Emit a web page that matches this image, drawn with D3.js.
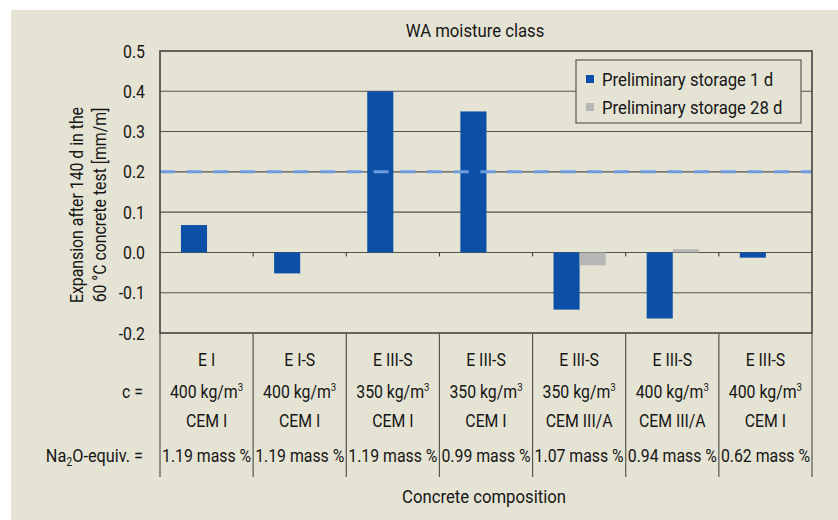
<!DOCTYPE html>
<meta charset="utf-8">
<script src="https://d3js.org/d3.v7.min.js"></script>
<style>
  body { margin: 0; background: #fff; }
  text { font-family: Roboto, "Liberation Sans", sans-serif; fill: #161616; }
</style>
<div id="chart"></div>
<script>
  // data
  var mixes = ["E I", "E I-S", "E III-S", "E III-S", "E III-S", "E III-S", "E III-S"];
  var cementContent = [400, 400, 350, 350, 350, 400, 400]; // kg/m3
  var cementType = ["CEM I", "CEM I", "CEM I", "CEM I", "CEM III/A", "CEM III/A", "CEM I"];
  var na2o = ["1.19 mass %", "1.19 mass %", "1.19 mass %", "0.99 mass %", "1.07 mass %", "0.94 mass %", "0.62 mass %"];
  var storage1d = [0.068, -0.052, 0.40, 0.35, -0.142, -0.164, -0.013];
  var storage28d = [null, null, null, null, -0.032, 0.008, null];
  var seriesNames = ["Preliminary storage 1 d", "Preliminary storage 28 d"];
  var yTicks = [0.5, 0.4, 0.3, 0.2, 0.1, 0.0, -0.1, -0.2];
  var limit = 0.2;

  var width = 838, height = 520;
  var plotL = 160, plotR = 812, plotT = 51, plotB = 333;
  var colors = ["#0b4fa6", "#b6b7b6"];
  var squeeze = 0.88; // the original uses a condensed face

  var svg = d3.select("#chart").append("svg")
    .attr("width", width)
    .attr("height", height);

  // condensed text: position group, then squeeze along the text direction
  function label(parent, x, y, str, size, anchor, rot) {
    var g = parent.append("g")
      .attr("transform", "translate(" + x + "," + y + ")" + (rot ? " rotate(" + rot + ")" : "") + " scale(" + squeeze + ",1)");
    return g.append("text")
      .attr("font-size", size)
      .attr("text-anchor", anchor || "middle")
      .text(str);
  }

  // beige page with the white scan border on top/left
  svg.append("rect").attr("width", width).attr("height", height).attr("fill", "#fff");
  svg.append("rect").attr("x", 11).attr("y", 10).attr("width", width - 11).attr("height", height - 10)
    .attr("fill", "#e5e3d4");

  var idx = d3.range(mixes.length);
  var x = d3.scaleBand().domain(idx).range([plotL, plotR]);
  var bw = x.bandwidth();
  var xs = d3.scaleBand().domain([0, 1]).range([bw * 0.225, bw * 0.785]);
  var y = d3.scaleLinear().domain([-0.2, 0.5]).range([plotB, plotT]);

  // grid lines
  svg.append("g").selectAll("line")
    .data(yTicks.slice(1, -1))
    .enter().append("line")
    .attr("x1", plotL).attr("x2", plotR)
    .attr("y1", d => y(d)).attr("y2", d => y(d))
    .attr("stroke", "#55554f").attr("stroke-width", 1.1);

  // y tick labels
  var fmt = d => d3.format(".1f")(d).replace("−", "-");
  var yLab = svg.append("g");
  yTicks.forEach(function(t) {
    label(yLab, 145, y(t) + 6.5, fmt(t), 18, "end");
  });

  // bars
  var bars = [];
  idx.forEach(function(i) {
    [storage1d[i], storage28d[i]].forEach(function(v, s) {
      if (v !== null) bars.push({ i: i, s: s, v: v });
    });
  });
  svg.append("g").selectAll("rect")
    .data(bars)
    .enter().append("rect")
    .attr("x", d => x(d.i) + xs(d.s))
    .attr("width", xs.bandwidth())
    .attr("y", d => y(Math.max(0, d.v)))
    .attr("height", d => Math.abs(y(d.v) - y(0)))
    .attr("fill", d => colors[d.s]);

  // small ticks on the zero line
  svg.append("g").selectAll("line")
    .data(idx.slice(1))
    .enter().append("line")
    .attr("x1", d => x(d)).attr("x2", d => x(d))
    .attr("y1", y(0)).attr("y2", y(0) + 4)
    .attr("stroke", "#333").attr("stroke-width", 1);

  // limit line
  svg.append("line")
    .attr("x1", plotL).attr("x2", plotR)
    .attr("y1", y(limit)).attr("y2", y(limit))
    .attr("stroke", "#6d9de0").attr("stroke-width", 3)
    .attr("stroke-dasharray", "15,11.7");

  // frame
  svg.append("rect")
    .attr("x", plotL).attr("y", plotT)
    .attr("width", plotR - plotL).attr("height", plotB - plotT)
    .attr("fill", "none").attr("stroke", "#3a3a38").attr("stroke-width", 1.5);

  // table below the plot
  var tableBottom = 477;
  svg.append("g").selectAll("line")
    .data(d3.range(mixes.length + 1))
    .enter().append("line")
    .attr("x1", d => plotL + d * bw).attr("x2", d => plotL + d * bw)
    .attr("y1", plotB).attr("y2", tableBottom)
    .attr("stroke", "#55554f").attr("stroke-width", 1.2);

  var rowY = [366, 398, 427, 462];
  var table = svg.append("g");
  idx.forEach(function(i) {
    var cx = x(i) + bw / 2;
    label(table, cx, rowY[0], mixes[i], 18, "middle");
    var c = label(table, cx, rowY[1], "", 18, "middle");
    c.append("tspan").text(cementContent[i] + " kg/m");
    c.append("tspan").attr("font-size", 11).attr("dy", -7).text("3");
    label(table, cx, rowY[2], cementType[i], 18, "middle");
    label(table, cx, rowY[3], na2o[i], 18, "middle");
  });

  label(svg, 143, rowY[1], "c =", 18, "end");
  var na = label(svg, 143, rowY[3], "", 18.5, "end");
  na.append("tspan").text("Na");
  na.append("tspan").attr("font-size", 12).attr("dy", 4).text("2");
  na.append("tspan").attr("dy", -4).text("O-equiv. =");

  // titles
  label(svg, 475, 37, "WA moisture class", 19, "middle");
  label(svg, 484, 503, "Concrete composition", 19, "middle");

  label(svg, 83, 205, "Expansion after 140 d in the", 18, "middle", -90);
  label(svg, 106, 205, "60 °C concrete test [mm/m]", 18, "middle", -90);

  // legend
  var lg = svg.append("g");
  lg.append("rect")
    .attr("x", 576).attr("y", 60).attr("width", 225).attr("height", 63)
    .attr("fill", "#e5e3d4").attr("stroke", "#5a5a55").attr("stroke-width", 1.2);
  seriesNames.forEach(function(name, i) {
    var cy = 79 + i * 28;
    lg.append("rect")
      .attr("x", 586).attr("y", cy - 4).attr("width", 8).attr("height", 8)
      .attr("fill", colors[i]);
    label(lg, 602, cy + 7, name, 19, "start");
  });
</script>
